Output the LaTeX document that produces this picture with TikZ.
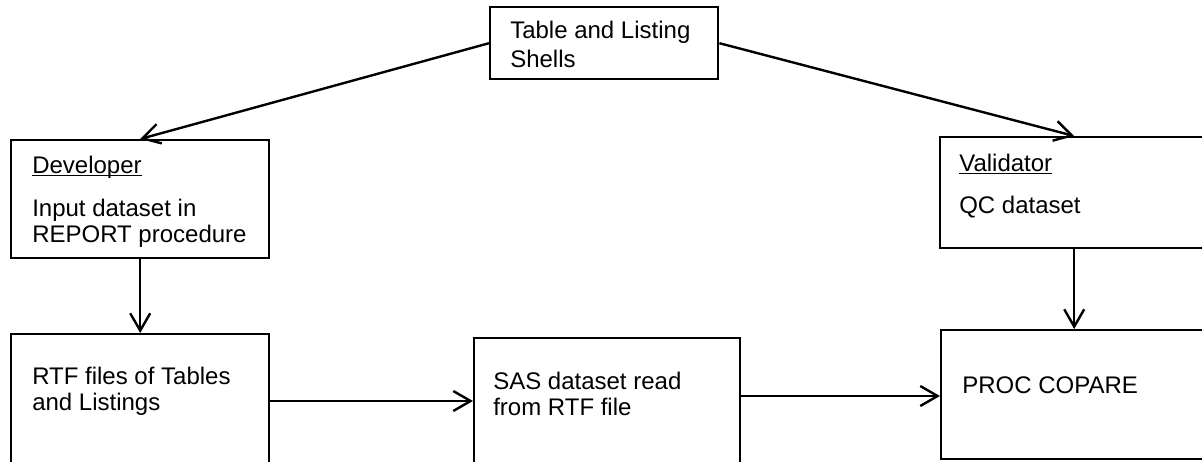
\documentclass[tikz,border=0pt]{standalone}
\usepackage{fontspec}
\setmainfont{Liberation Sans}
\usetikzlibrary{positioning,arrows.meta}

% underline drawn just under the baseline
\newcommand\lineunder[1]{\setbox0\hbox{#1}\rlap{\rule[-2.6pt]{\wd0}{1.1pt}}\box0}

\tikzset{
  box/.style={draw,line width=1.8pt,anchor=north west,inner sep=0pt},
  txt/.style={anchor=base west,align=left,inner sep=0pt,
    font=\fontsize{18}{19.5}\selectfont},
  link/.style={-{Straight Barb[length=13pt,width=15pt]},line width=1.8pt}
}

\begin{document}
\begin{tikzpicture}[x=0.75pt,y=-0.75pt]
        \clip (0,0) rectangle (1202,461);
        % boxes
        \node[box,minimum width=171pt,minimum height=54pt] (shells) at (489,6) {};
        \node[box,minimum width=193.5pt,minimum height=88.5pt] (dev) at (10,139) {};
        \node[box,minimum width=201pt,minimum height=83.25pt] (val) at (939,136) {};
        \node[box,minimum width=193.5pt,minimum height=112.5pt] (rtf) at (10,333) {};
        \node[box,minimum width=199.5pt,minimum height=112.5pt] (sas) at (473,337) {};
        \node[box,minimum width=202.5pt,minimum height=96.75pt] (proc) at (940,329) {};
        % texts (base = baseline of the last line)
        \node[txt,font=\fontsize{18}{21.75}\selectfont] (shellstxt)
            at ([shift={(21,61)}]shells.north west) {Table and Listing\\Shells};
        \node[txt] (devhead) at ([shift={(22,34)}]dev.north west) {\lineunder{Developer}};
        \node[txt] (devtxt) at ([shift={(22,103)}]dev.north west) {Input dataset in\\REPORT procedure};
        \node[txt] (valhead) at ([shift={(20,35)}]val.north west) {\lineunder{Validator}};
        \node[txt] (valtxt) at ([shift={(20,77)}]val.north west) {QC dataset};
        \node[txt] (rtftxt) at ([shift={(22,77)}]rtf.north west) {RTF files of Tables\\and Listings};
        \node[txt] (sastxt) at ([shift={(20,78)}]sas.north west) {SAS dataset read\\from RTF file};
        \node[txt] (proctxt) at ([shift={(22,64)}]proc.north west) {PROC COPARE};
        % arrows
        \coordinate (rtfout) at ([shift={(0,68)}]rtf.north east);
        \coordinate (sasout) at ([shift={(0,59)}]sas.north east);
        \draw[link] (shells.west) -- (dev.north);
        \draw[link] (shells.east) -- (val.north);
        \draw[link] (dev.south) -- (rtf.north);
        \draw[link] (val.south) -- (val.south |- proc.north);
        \draw[link] (rtfout) -- (rtfout -| sas.west);
        \draw[link] (sasout) -- (sasout -| proc.west);
\end{tikzpicture}
\end{document}
